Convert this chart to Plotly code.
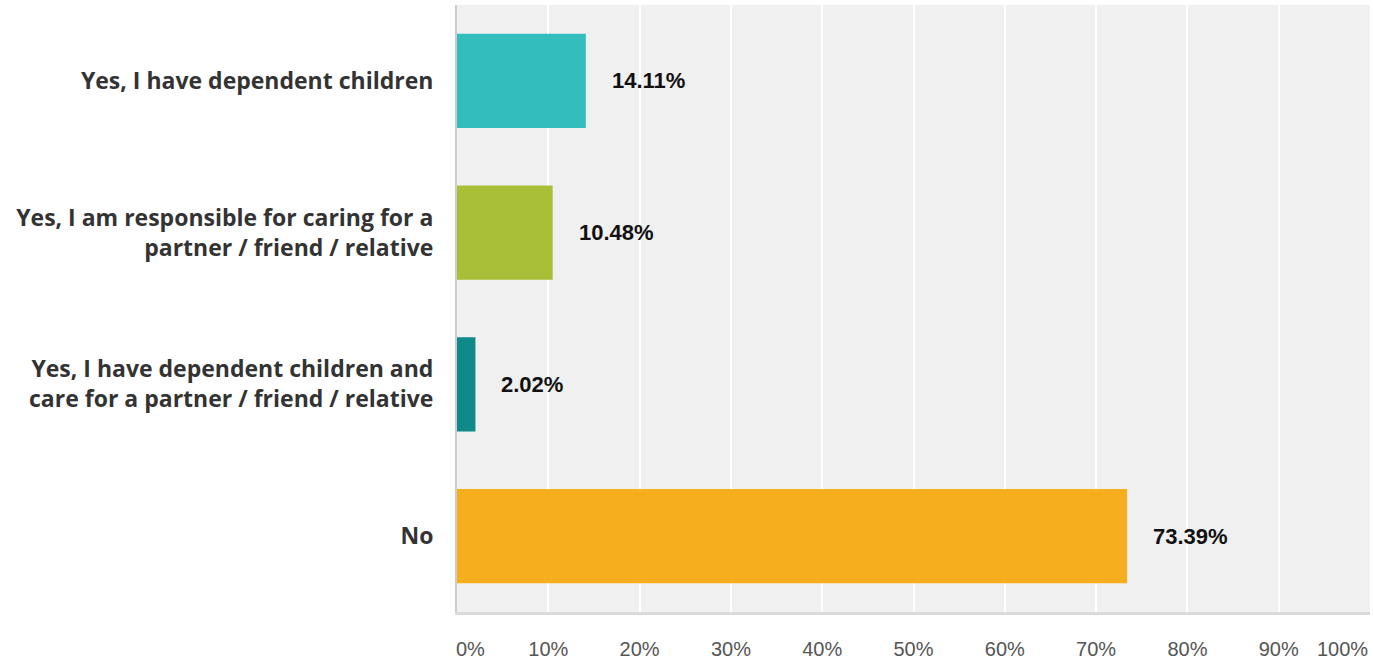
import plotly.graph_objects as go

categories = [
    "Yes, I have dependent children",
    "Yes, I am responsible for caring for a<br>partner / friend / relative",
    "Yes, I have dependent children and<br>care for a partner / friend / relative",
    "No",
]
values = [14.11, 10.48, 2.02, 73.39]
colors = ["#33BDBD", "#A9BF38", "#0E8A8A", "#F6AE1F"]
tick_vals = [0, 10, 20, 30, 40, 50, 60, 70, 80, 90, 100]
tick_text = ["0%", "10%", "20%", "30%", "40%", "50%", "60%", "70%", "80%", "90%", "100%"]

tick_font = dict(family="Liberation Sans, Arial", size=20, color="#555555")

fig = go.Figure()
fig.add_trace(go.Bar(
    y=categories, x=values, orientation="h",
    marker=dict(color=colors, line=dict(width=0)),
    width=0.62, hoverinfo="skip",
))

for c, v in zip(categories, values):
    fig.add_annotation(
        x=v, y=c, text=f"{v:.2f}%", showarrow=False,
        xanchor="left", xshift=24,
        font=dict(family="Liberation Sans, Arial", size=22, color="#111111", weight="bold"),
    )

# first and last tick labels are kept inside the plot width, as in the original
fig.add_annotation(x=tick_vals[0], y=0, yref="paper", yanchor="top", yshift=-24,
                   text=tick_text[0], showarrow=False, xanchor="left", xshift=-3, font=tick_font)
fig.add_annotation(x=tick_vals[-1], y=0, yref="paper", yanchor="top", yshift=-24,
                   text=tick_text[-1], showarrow=False, xanchor="right", font=tick_font)

fig.update_layout(
    width=1373, height=660,
    margin=dict(l=457, r=3, t=5, b=48),
    paper_bgcolor="white", plot_bgcolor="#F0F0F0",
    showlegend=False,
)
fig.update_xaxes(
    range=[0, 100], tickvals=tick_vals[1:-1], ticktext=tick_text[1:-1],
    showgrid=True, gridcolor="white", gridwidth=2,
    zeroline=False, showline=True, linecolor="#DADADA", linewidth=3,
    ticks="", ticklabelstandoff=17, automargin=False,
    tickfont=tick_font,
    fixedrange=True,
)
fig.update_yaxes(
    categoryorder="array", categoryarray=categories[::-1],
    showgrid=False, zeroline=False, showline=True, linecolor="#CCCCCC", linewidth=2,
    ticks="", ticklabelstandoff=17, automargin=False,
    tickfont=dict(family="Open Sans", size=23, color="#333333", weight="bold"),
    fixedrange=True,
)

fig.write_html(
    "out.html",
    config={"displayModeBar": False},
    post_script="document.body.style.margin='0px';document.body.style.overflow='hidden';",
)
